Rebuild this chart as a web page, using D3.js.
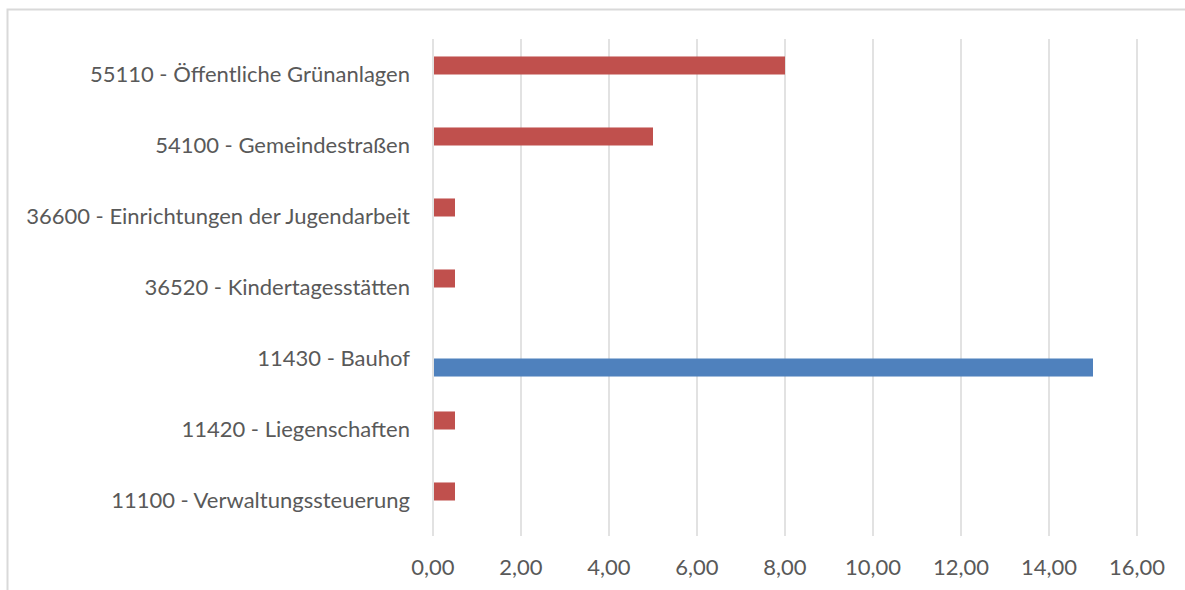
<!DOCTYPE html>
<html>
<head>
<meta charset="utf-8">
<script src="https://cdn.jsdelivr.net/npm/d3@7"></script>
<style>
  body { margin: 0; background: #fff; }
  svg { display: block; }
</style>
</head>
<body>
<svg></svg>
<script>
// categories, top to bottom as drawn
const categories = [
    '55110 - Öffentliche Grünanlagen',
    '54100 - Gemeindestraßen',
    '36600 - Einrichtungen der Jugendarbeit',
    '36520 - Kindertagesstätten',
    '11430 - Bauhof',
    '11420 - Liegenschaften',
    '11100 - Verwaltungssteuerung'
];
const seriesNames = ['Reihe1', 'Reihe2'];
const redValues = [8, 5, 0.5, 0.5, 0, 0.5, 0.5];
const blueValues = [0, 0, 0, 0, 15, 0, 0];
const xTicks = [0, 2, 4, 6, 8, 10, 12, 14, 16];

const width = 1185;
const height = 590;
const svg = d3.select('svg')
    .attr('width', width)
    .attr('height', height);

// chart frame (only top and left edges are visible in the picture)
svg.append('rect')
    .attr('x', 7.5).attr('y', 9.5)
    .attr('width', 1200).attr('height', 600)
    .attr('fill', 'none')
    .attr('stroke', '#d9d9d9')
    .attr('stroke-width', 2);

const plot = { top: 39, bottom: 536, left: 433, right: 1137 };

const x = d3.scaleLinear().domain([0, 16]).range([plot.left, plot.right]);
const y = d3.scaleBand().domain(categories).range([plot.top, plot.bottom]);
const inner = d3.scaleBand().domain(seriesNames)
    .range([0, y.bandwidth()]).paddingOuter(0.97);

const locale = d3.formatLocale({ decimal: ',', thousands: '.', grouping: [3], currency: ['', '€'] });
const fmt = locale.format('.2f');

// gridlines
svg.append('g').selectAll('line').data(xTicks)
    .enter().append('line')
    .attr('x1', d => x(d)).attr('x2', d => x(d))
    .attr('y1', plot.top).attr('y2', plot.bottom)
    .attr('stroke', '#d9d9d9')
    .attr('stroke-width', 1.5);

// x tick labels
svg.append('g').selectAll('text').data(xTicks)
    .enter().append('text')
    .attr('x', d => x(d))
    .attr('y', 567)
    .attr('dy', '0.35em')
    .attr('text-anchor', 'middle')
    .attr('font-family', 'Lato, sans-serif')
    .attr('font-size', '22px')
    .attr('fill', '#595959')
    .text(d => fmt(d));

// category labels
svg.append('g').selectAll('text').data(categories)
    .enter().append('text')
    .attr('x', 410)
    .attr('y', d => y(d) + y.bandwidth() / 2)
    .attr('dy', '0.35em')
    .attr('text-anchor', 'end')
    .attr('font-family', 'Lato, sans-serif')
    .attr('font-size', '22px')
    .attr('fill', '#595959')
    .text(d => d);

// bars
const series = [
    { name: 'Reihe1', values: redValues, color: '#c0504d' },
    { name: 'Reihe2', values: blueValues, color: '#4f81bd' }
];
series.forEach(s => {
    svg.append('g').selectAll('rect')
        .data(categories.map((c, i) => ({ c, v: s.values[i] })).filter(d => d.v > 0))
        .enter().append('rect')
        .attr('x', x(0) + 1)
        .attr('y', d => y(d.c) + inner(s.name))
        .attr('width', d => x(d.v) - x(0) - 1)
        .attr('height', inner.bandwidth())
        .attr('fill', s.color);
});
</script>
</body>
</html>
